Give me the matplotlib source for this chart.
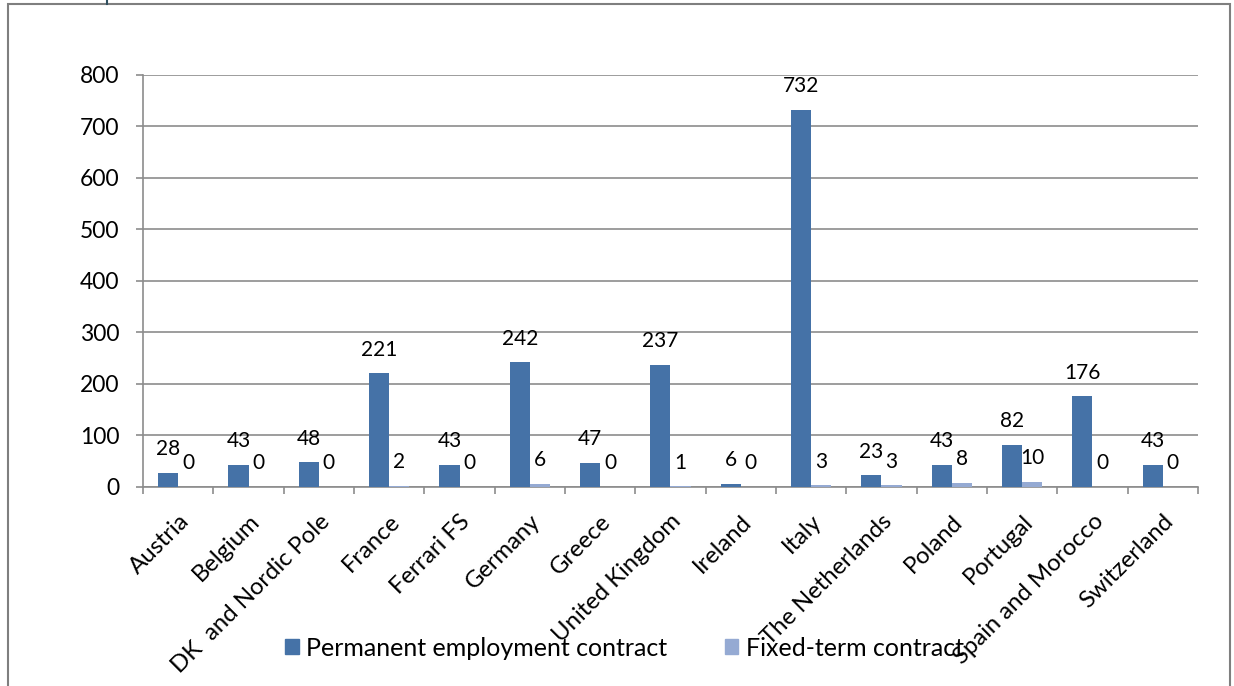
import numpy as np
import matplotlib
matplotlib.use("Agg")
import matplotlib.pyplot as plt
import matplotlib.transforms as mtransforms
from matplotlib.patches import Rectangle, Patch
from matplotlib.lines import Line2D

countries = ["Austria", "Belgium", "DK  and Nordic Pole", "France", "Ferrari FS",
             "Germany", "Greece", "United Kingdom", "Ireland", "Italy",
             "The Netherlands", "Poland", "Portugal", "Spain and Morocco", "Switzerland"]
permanent = [28, 43, 48, 221, 43, 242, 47, 237, 6, 732, 23, 43, 82, 176, 43]
fixed_term = [0, 0, 0, 2, 0, 6, 0, 1, 0, 3, 3, 8, 10, 0, 0]

PERM_COLOR = "#4572A7"
FIXED_COLOR = "#95AAD3"
GRID_COLOR = "#8C8C8C"

plt.rcParams["font.family"] = ["Lato", "DejaVu Sans"]

fig = plt.figure(figsize=(12.34, 6.86), dpi=100)
ax = fig.add_axes([0.1159, 0.2901, 0.8549, 0.6006])

x = np.arange(len(countries))
w = 1 / 3.5
b1 = ax.bar(x - w / 2, permanent, width=w, color=PERM_COLOR, zorder=3)
b2 = ax.bar(x + w / 2, fixed_term, width=w, color=FIXED_COLOR, zorder=3)

for bars, vals in [(b1, permanent), (b2, fixed_term)]:
    for rect, v in zip(bars, vals):
        ax.annotate(str(v), (rect.get_x() + rect.get_width() / 2, v),
                    xytext=(0, 17), textcoords="offset points",
                    ha="center", va="center", fontsize=15, color="black")

ax.set_xlim(-0.5, len(countries) - 0.5)
ax.set_ylim(0, 800)
ax.set_yticks(np.arange(0, 801, 100))
ax.yaxis.grid(True, color=GRID_COLOR, linewidth=1.2, zorder=0)
ax.set_axisbelow(True)

ax.set_xticks(x)
ax.set_xticks(np.arange(-0.5, len(countries), 1), minor=True)
ax.set_xticklabels(countries, rotation=45, ha="right", rotation_mode="anchor",
                   fontsize=17.2)
shift = mtransforms.ScaledTranslation(5 / 72, 0, fig.dpi_scale_trans)
for lbl in ax.get_xticklabels():
    lbl.set_transform(lbl.get_transform() + shift)
ax.tick_params(axis="x", which="major", length=0, pad=17)
ax.tick_params(axis="x", which="minor", length=5, width=1.2, color=GRID_COLOR)
ax.tick_params(axis="y", length=5, width=1.2, color=GRID_COLOR, labelsize=16.5, pad=12)

for s in ["top", "right"]:
    ax.spines[s].set_visible(False)
for s in ["left", "bottom"]:
    ax.spines[s].set_color(GRID_COLOR)
    ax.spines[s].set_linewidth(1.2)

handles = [Patch(color=PERM_COLOR, label="Permanent employment contract"),
           Patch(color=FIXED_COLOR, label="Fixed-term contract")]
fig.legend(handles=handles, loc="center", bbox_to_anchor=(0.506, 0.055), ncol=2,
           frameon=False, fontsize=18, handlelength=0.55, handleheight=0.55,
           handletextpad=0.3, columnspacing=2.3)

# outer chart frame
fig.add_artist(Rectangle((8 / 1234, -0.05), 1222 / 1234, 1.05 - 4 / 686,
                         transform=fig.transFigure, fill=False,
                         edgecolor="#7F7F7F", linewidth=1.5))
fig.add_artist(Line2D([107 / 1234, 107 / 1234], [1 - 4 / 686, 1.0],
                      transform=fig.transFigure, color="#2F4F5F", linewidth=1.5))

fig.savefig("out.png", dpi=100)
